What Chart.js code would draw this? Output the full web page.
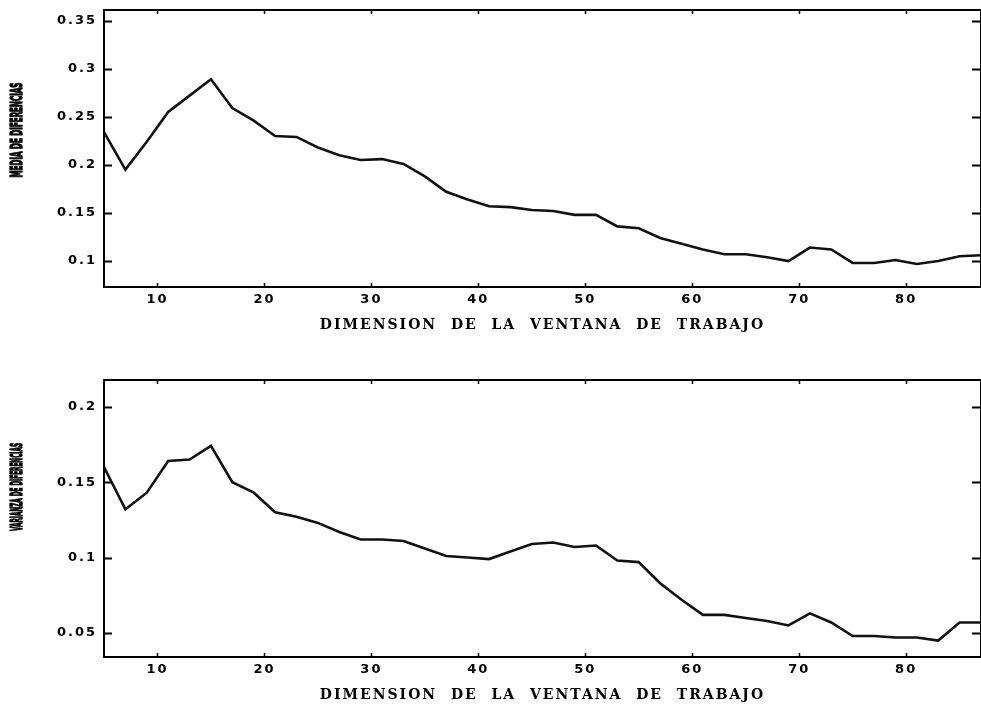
<!DOCTYPE html>
<html>
<head>
<meta charset="utf-8">
<title>Dimension de la ventana de trabajo</title>
<script src="https://cdn.jsdelivr.net/npm/chart.js@4/dist/chart.umd.min.js"></script>
<style>
  html, body { margin: 0; padding: 0; background: #fff; }
  #wrap { position: relative; width: 981px; height: 705px; overflow: hidden; }
  canvas { position: absolute; left: 0; }
  #cMedia { top: 0; }
  #cVarianza { top: 352px; }
</style>
</head>
<body>
<div id="wrap">
  <canvas id="cMedia" width="981" height="352"></canvas>
  <canvas id="cVarianza" width="981" height="353"></canvas>
</div>
<script>
// Window sizes (x) and the two measured series
const windowSizes = [5, 7, 9, 11, 13, 15, 17, 19, 21, 23, 25, 27, 29, 31, 33, 35, 37, 39, 41, 43,
                     45, 47, 49, 51, 53, 55, 57, 59, 61, 63, 65, 67, 69, 71, 73, 75, 77, 79, 81, 83, 85, 87];

const mediaDiferencias = [0.234, 0.195, 0.224, 0.255, 0.272, 0.289, 0.259, 0.246, 0.230, 0.229,
                          0.218, 0.210, 0.205, 0.206, 0.201, 0.188, 0.172, 0.164, 0.157, 0.156,
                          0.153, 0.152, 0.148, 0.148, 0.136, 0.134, 0.124, 0.118, 0.112, 0.107,
                          0.107, 0.104, 0.100, 0.114, 0.112, 0.098, 0.098, 0.101, 0.097, 0.100,
                          0.105, 0.106];

const varianzaDiferencias = [0.160, 0.132, 0.143, 0.164, 0.165, 0.174, 0.150, 0.143, 0.130, 0.127,
                             0.123, 0.117, 0.112, 0.112, 0.111, 0.106, 0.101, 0.100, 0.099, 0.104,
                             0.109, 0.110, 0.107, 0.108, 0.098, 0.097, 0.083, 0.072, 0.062, 0.062,
                             0.060, 0.058, 0.055, 0.063, 0.057, 0.048, 0.048, 0.047, 0.047, 0.045,
                             0.057, 0.057];

// Tick values and their labels
const xTickValues = [10, 20, 30, 40, 50, 60, 70, 80];
const mediaTickValues = [0.1, 0.15, 0.2, 0.25, 0.3, 0.35];
const mediaTickLabels = ['0.1', '0.15', '0.2', '0.25', '0.3', '0.35'];
const varianzaTickValues = [0.05, 0.1, 0.15, 0.2];
const varianzaTickLabels = ['0.05', '0.1', '0.15', '0.2'];

const xTitle = 'DIMENSION  DE  LA  VENTANA  DE  TRABAJO';
const mediaTitle = 'MEDIA DE DIFERENCIAS';
const varianzaTitle = 'VARIANZA DE DIFERENCIAS';

// Frame around the plot with inward tick marks on all four sides,
// plus the condensed vertical axis caption.
const framePlugin = {
  id: 'frame',
  beforeDraw(chart) {
    chart.ctx.letterSpacing = '2px';
  },
  afterDatasetsDraw(chart) {
    const { ctx, chartArea: a, scales: { x, y } } = chart;
    ctx.save();
    ctx.strokeStyle = '#000';
    ctx.lineWidth = 2;
    ctx.strokeRect(a.left, a.top, a.right - a.left, a.bottom - a.top);
    ctx.beginPath();
    y.ticks.forEach(t => {
      const py = Math.round(y.getPixelForValue(t.value)) + 0.5;
      ctx.moveTo(a.left, py); ctx.lineTo(a.left + 8, py);
      ctx.moveTo(a.right, py); ctx.lineTo(a.right - 9, py);
    });
    ctx.stroke();
    ctx.lineWidth = 1.5;
    ctx.beginPath();
    x.ticks.forEach(t => {
      const px = Math.round(x.getPixelForValue(t.value)) + 0.5;
      ctx.moveTo(px, a.bottom); ctx.lineTo(px, a.bottom - 4);
      ctx.moveTo(px, a.top); ctx.lineTo(px, a.top + 4);
    });
    ctx.stroke();
    ctx.restore();
  },
  afterDraw(chart, args, opts) {
    const ctx = chart.ctx;
    ctx.save();
    ctx.letterSpacing = '0px';
    ctx.fillStyle = '#000';
    ctx.strokeStyle = '#000';
    ctx.lineWidth = 1.3;
    ctx.font = 'bold 16px "DejaVu Sans"';
    ctx.textAlign = 'center';
    ctx.textBaseline = 'middle';
    const w = ctx.measureText(opts.text).width;
    ctx.translate(opts.cx, opts.cy);
    ctx.rotate(-Math.PI / 2);
    ctx.scale(opts.length / w, 1);
    ctx.fillText(opts.text, 0, 0);
    ctx.strokeText(opts.text, 0, 0);
    ctx.restore();
  }
};

// Fixed axis boxes so the plot area sits at a set place on the canvas
function fixBox(s, key, size) {
  s[key] = size;
  s.paddingTop = 0;
  s.paddingBottom = 0;
  s.paddingLeft = 0;
  s.paddingRight = 0;
}

function buildChart(canvasId, values, yMin, yMax, yTicks, yLabels, layout) {
  return new Chart(document.getElementById(canvasId), {
    type: 'line',
    data: {
      datasets: [{
        data: windowSizes.map((w, i) => ({ x: w, y: values[i] })),
        borderColor: '#111',
        borderWidth: 2.6,
        pointRadius: 0,
        tension: 0,
        fill: false
      }]
    },
    options: {
      responsive: false,
      animation: false,
      devicePixelRatio: 1,
      layout: { padding: { top: layout.top, left: 0, right: 0, bottom: 0 } },
      plugins: {
        legend: { display: false },
        tooltip: { enabled: false },
        frame: { text: layout.yTitle, cx: 18, cy: layout.yTitleCy, length: layout.yTitleLen }
      },
      scales: {
        x: {
          type: 'linear',
          min: 5,
          max: 87,
          grid: { display: false, drawTicks: false },
          border: { display: false },
          afterBuildTicks: s => { s.ticks = xTickValues.map(v => ({ value: v })); },
          afterFit: s => fixBox(s, 'height', layout.xHeight),
          ticks: {
            autoSkip: false,
            maxRotation: 0,
            padding: 5,
            color: '#000',
            font: { family: '"DejaVu Sans"', size: 13, weight: 'bold' },
            callback: v => String(v)
          },
          title: {
            display: true,
            text: xTitle,
            color: '#000',
            font: { family: '"DejaVu Serif"', size: 14, weight: 'bold' },
            padding: { top: 0, bottom: layout.titlePad }
          }
        },
        y: {
          type: 'linear',
          min: yMin,
          max: yMax,
          grid: { display: false, drawTicks: false },
          border: { display: false },
          afterBuildTicks: s => { s.ticks = yTicks.map(v => ({ value: v })); },
          afterFit: s => fixBox(s, 'width', 104),
          ticks: {
            autoSkip: false,
            padding: 7,
            color: '#000',
            font: { family: '"DejaVu Sans"', size: 13, weight: 'bold' },
            callback: (v, i) => yLabels[i]
          }
        }
      }
    },
    plugins: [framePlugin]
  });
}

buildChart('cMedia', mediaDiferencias, 0.073, 0.361, mediaTickValues, mediaTickLabels,
  { top: 10, xHeight: 65, titlePad: 18, yTitle: mediaTitle, yTitleCy: 130, yTitleLen: 95 });

buildChart('cVarianza', varianzaDiferencias, 0.0341, 0.2177, varianzaTickValues, varianzaTickLabels,
  { top: 28, xHeight: 48, titlePad: 1, yTitle: varianzaTitle, yTitleCy: 135, yTitleLen: 88 });
</script>
</body>
</html>
